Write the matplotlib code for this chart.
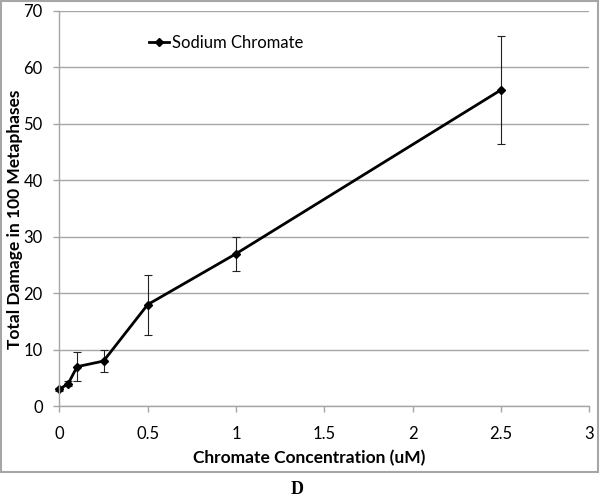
import matplotlib.pyplot as plt
from matplotlib.patches import Rectangle
from matplotlib.lines import Line2D

conc = [0, 0.05, 0.1, 0.25, 0.5, 1, 2.5]
damage = [3, 4, 7, 8, 18, 27, 56]
err = [0.3, 0.4, 2.6, 1.9, 5.3, 3.0, 9.6]

plt.rcParams['font.family'] = ['Lato', 'DejaVu Sans']

fig = plt.figure(figsize=(6, 4.96), dpi=100)
ax = fig.add_axes([0.099, 0.181, 0.883, 0.797])

line = ax.errorbar(conc, damage, yerr=err, color='black', lw=2, marker='D', ms=4.5,
                   ecolor='#222222', elinewidth=0.8, capsize=3, capthick=0.8)
for artist in line.get_children():
    artist.set_clip_on(False)

ax.set_xlim(0, 3)
ax.set_ylim(0, 70)
ax.set_xticks([0, 0.5, 1, 1.5, 2, 2.5, 3])
ax.set_xticklabels(['0', '0.5', '1', '1.5', '2', '2.5', '3'])
ax.set_yticks(range(0, 71, 10))
ax.yaxis.grid(True, color='#a6a6a6', lw=1)
ax.set_axisbelow(True)

for s in ['top', 'right']:
    ax.spines[s].set_visible(False)
for s in ['left', 'bottom']:
    ax.spines[s].set_color('#a6a6a6')
    ax.spines[s].set_linewidth(1)
ax.tick_params(axis='both', colors='#a6a6a6', labelcolor='black', labelsize=12,
               length=4, width=1, direction='out')
ax.tick_params(axis='x', pad=10)
ax.tick_params(axis='y', pad=8)

ax.set_xlabel('Chromate Concentration (uM)', fontsize=12.5, fontweight='bold',
              labelpad=6, x=0.471)
ax.set_ylabel('Total Damage in 100 Metaphases', fontsize=12.5, fontweight='bold',
              labelpad=0, y=0.473)

handle = Line2D([], [], color='black', lw=2, marker='D', ms=4)
ax.legend([handle], ['Sodium Chromate'], loc='center left', bbox_to_anchor=(0.14, 0.92),
          frameon=False, fontsize=12, handlelength=1.2, handletextpad=0.2)

fig.patches.append(Rectangle((0.002, 1 - 472 / 496), 0.995, 472 / 496 - 0.002,
                             transform=fig.transFigure, fill=False,
                             edgecolor='#a6a6a6', lw=1.5))
fig.text(0.495, 0.005, 'D', family='Liberation Serif', fontweight='bold',
         fontsize=13, ha='center')

fig.savefig('out.png', dpi=100)
